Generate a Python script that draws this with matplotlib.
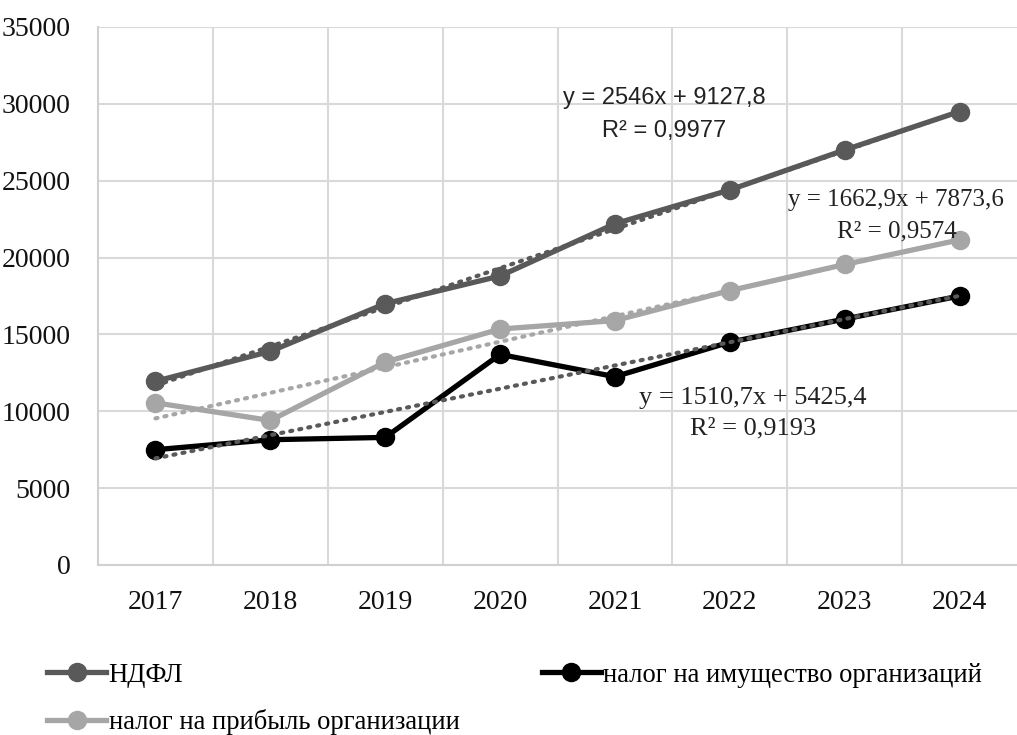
import numpy as np
import matplotlib.pyplot as plt

years = ['2017', '2018', '2019', '2020', '2021', '2022', '2023', '2024']
ndfl = [11950, 13900, 17000, 18800, 22200, 24400, 27000, 29500]
imush = [7500, 8150, 8300, 13700, 12250, 14500, 16000, 17500]
pribyl = [10550, 9400, 13200, 15350, 15900, 17850, 19550, 21150]

# коэффициенты линий тренда (с подписей на графике)
trend_k = [2546, 1662.9, 1510.7]
trend_b = [9127.8, 7873.6, 5425.4]
trend_txt = ['y = 2546x + 9127,8\nR² = 0,9977',
             'y = 1662,9x + 7873,6\nR² = 0,9574',
             'y = 1510,7x + 5425,4\nR² = 0,9193']

plt.rcParams['font.family'] = ['Liberation Serif', 'DejaVu Serif']

fig = plt.figure(figsize=(10.17, 7.35), dpi=100)
ax = fig.add_axes([0.0964, 0.2313, 0.9036, 0.732])

x = np.arange(len(years))
c_ndfl, c_pr, c_im = '#595959', '#a6a6a6', '#000000'

l1, = ax.plot(x, ndfl, color=c_ndfl, lw=3.8, marker='o', ms=13, label='НДФЛ', zorder=3)
l3, = ax.plot(x, imush, color=c_im, lw=3.8, marker='o', ms=13,
              label='налог на имущество организаций', zorder=3)
l2, = ax.plot(x, pribyl, color=c_pr, lw=3.8, marker='o', ms=13,
              label='налог на прибыль организации', zorder=3)

# линии тренда
xt = np.array([0, len(years) - 1])
trend_col = [c_ndfl, c_pr, '#595959']
for k, b, c in zip(trend_k, trend_b, trend_col):
    ax.plot(xt, k * (xt + 1) + b, color=c, lw=3, ls=(0, (0.5, 1.7)),
            dash_capstyle='round', zorder=4)

ax.text(4.43, 29300, trend_txt[0], ha='center', va='center', fontsize=17,
        family=['Liberation Sans', 'DejaVu Sans'], color='#222222',
        linespacing=1.65, zorder=5)
ax.text(6.45, 22750, trend_txt[1], ha='center', va='center', fontsize=18,
        color='#222222', linespacing=1.55, zorder=5)
ax.text(5.20, 9900, trend_txt[2], ha='center', va='center', fontsize=19,
        color='#222222', linespacing=1.5, zorder=5)

ax.set_xlim(-0.5, 7.5)
ax.set_ylim(0, 35000)
ax.set_yticks(np.arange(0, 35001, 5000))
ax.set_xticks(x)
ax.set_xticklabels(years)
ax.set_xticks(np.arange(0.5, 7, 1), minor=True)
ax.tick_params(axis='both', which='both', length=0, labelsize=20, colors='#111111')
ax.tick_params(axis='x', pad=18)
ax.tick_params(axis='y', pad=20)
ax.grid(axis='y', color='#d9d9d9', lw=1.5)
ax.grid(axis='x', which='minor', color='#d9d9d9', lw=1.5)
for s in ['top', 'right']:
    ax.spines[s].set_visible(False)
for s in ['left', 'bottom']:
    ax.spines[s].set_color('#d0d0d0')
    ax.spines[s].set_linewidth(1.5)
ax.set_axisbelow(True)

fig.legend(handles=[l1, l2, l3], loc='upper left', bbox_to_anchor=(0.036, 0.113),
           ncol=2, frameon=False, fontsize=19.2, handlelength=2.2, handletextpad=0.1,
           columnspacing=3.1, labelspacing=0.82, borderaxespad=0)

fig.savefig('out.png', dpi=100)
